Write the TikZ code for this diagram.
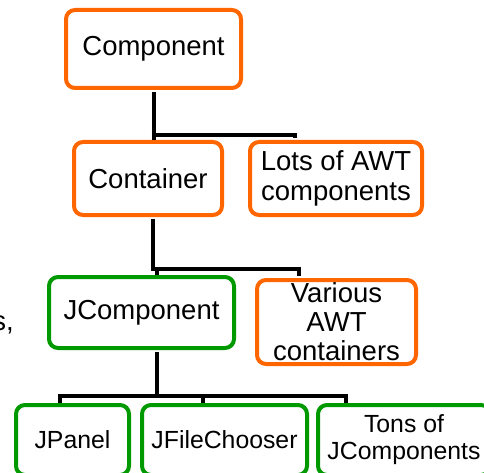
\documentclass[tikz,border=0pt]{standalone}
\usepackage{fontspec}
\setmainfont{Liberation Sans}
\definecolor{boxorange}{RGB}{255,102,0}
\definecolor{boxgreen}{RGB}{0,153,0}
\begin{document}
\begin{tikzpicture}[x=1pt,y=-1pt,
  box/.style={draw, line width=4pt, rounded corners=9pt, fill=white, inner sep=0pt, align=center,
    font=\fontsize{27.5}{30}\selectfont},
  obox/.style={box, draw=boxorange},
  gbox/.style={box, draw=boxgreen},
  small/.style={font=\fontsize{24.8}{27}\selectfont},
  conn/.style={draw=black, line width=4pt}]
\useasboundingbox (0,0) rectangle (484,473);
\clip (0,0) rectangle (484,473);
% nodes
\node[obox, minimum width=175pt, minimum height=78pt] (comp) at (153.5,49) {Component};
\node[obox, minimum width=148pt, minimum height=73pt] (cont) at (148,178.5) {Container};
\node[obox, minimum width=172pt, minimum height=73pt] (lots) at (336,178.5) {Lots of AWT\\components};
\node[gbox, minimum width=185pt, minimum height=71pt] (jcomp) at (141.5,312.5) {JComponent};
\node[obox, minimum width=159pt, minimum height=84pt, font=\fontsize{27.5}{29}\selectfont] (various) at (336.5,322) {Various\\AWT\\containers};
\node[gbox, small, minimum width=113pt, minimum height=70pt] (jpanel) at (72.5,440) {JPanel};
\node[gbox, small, minimum width=165pt, minimum height=70pt] (jfc) at (224.5,440) {JFileChooser};
\node[gbox, small, minimum width=172pt, minimum height=70pt] (tons) at (404,440) {Tons of\\JComponents};
\node[anchor=base east, inner sep=0pt, font=\fontsize{27.5}{30}\selectfont] (frag) at (14,330) {s,};
% connector anchor points
\coordinate (tonsin) at ([xshift=-58pt]tons.north);
\coordinate (jpanelin) at ([xshift=-12.5pt]jpanel.north);
\coordinate (jfcin) at ([xshift=-21.5pt]jfc.north);
% connectors
\draw[conn] ([yshift=-2pt]comp.south) -- ++(0,43) coordinate (b1);
\draw[conn] ([xshift=-2pt]b1) -| ([xshift=-41pt,yshift=2pt]lots.north);
\draw[conn] (b1) -- (b1 |- cont.north);
\draw[conn] ([xshift=5pt,yshift=-2pt]cont.south) -- ++(0,49.5) coordinate (b2);
\draw[conn] ([xshift=-2pt]b2) -| ([xshift=-37.5pt,yshift=2pt]various.north);
\draw[conn] ([xshift=4pt]b2) -- ([xshift=15.5pt]jcomp.north);
\draw[conn] ([xshift=15.5pt,yshift=-2pt]jcomp.south) -- ++(0,44) coordinate (b3);
\draw[conn] (jpanelin) |- (b3 -| tonsin) -- (tonsin);
\draw[conn] (jfcin |- b3) -- (jfcin);
\end{tikzpicture}
\end{document}
